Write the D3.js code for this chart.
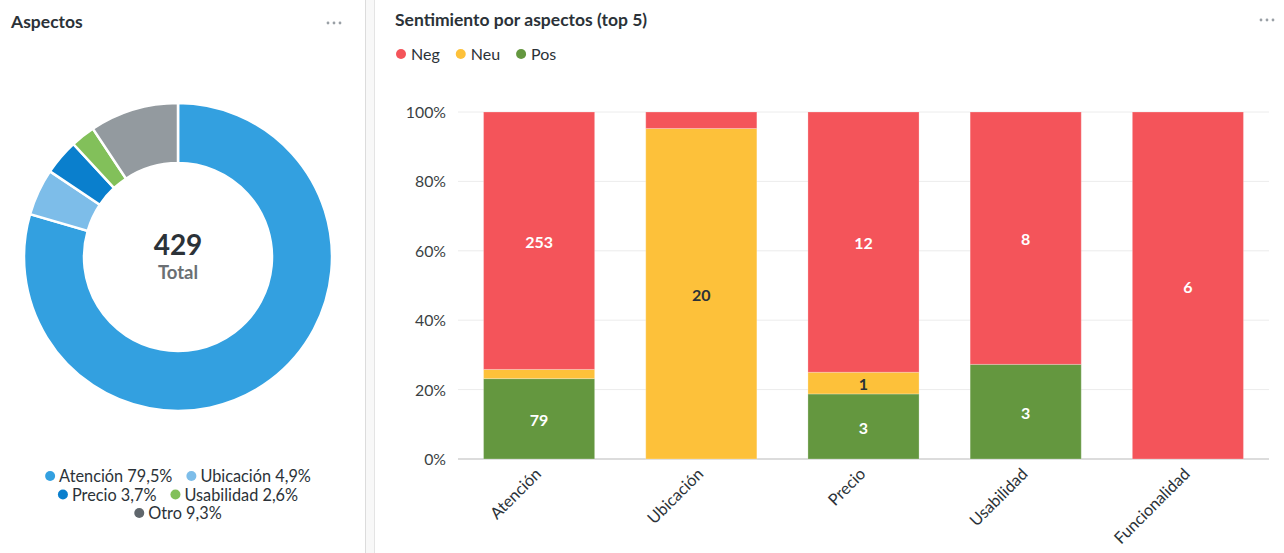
<!DOCTYPE html>
<html>
<head>
<meta charset="utf-8">
<script src="https://cdn.jsdelivr.net/npm/d3@7"></script>
<style>
  html, body { margin: 0; padding: 0; background: #fff; }
  svg { display: block; font-family: Lato, "Open Sans", sans-serif; }
</style>
</head>
<body>
<svg id="chart" width="1284" height="553"></svg>
<script>
// ---- Data ----
const donutCategories = ["Atención", "Ubicación", "Precio", "Usabilidad", "Otro"];
const donutValues = [341, 21, 16, 11, 40];
const donutLabels = ["79,5%", "4,9%", "3,7%", "2,6%", "9,3%"];
const donutColors = ["#33a0e0", "#7dbde9", "#0a7fcd", "#82c05a", "#939a9f"];
const donutLegendDots = ["#33a0e0", "#7dbde9", "#0a7fcd", "#82c05a", "#5f666c"];

const barCategories = ["Atención", "Ubicación", "Precio", "Usabilidad", "Funcionalidad"];
const seriesNames = ["Neg", "Neu", "Pos"];
const negValues = [253, 1, 12, 8, 6];
const neuValues = [9, 20, 1, 0, 0];
const posValues = [79, 0, 3, 3, 0];
const seriesColors = ["#f4545a", "#fdc13a", "#64973f"];
const yTicks = [0, 0.2, 0.4, 0.6, 0.8, 1];

const svg = d3.select("#chart");

// ---- Panel divider ----
svg.append("rect").attr("x", 365).attr("y", 0).attr("width", 10).attr("height", 553).attr("fill", "#f8f8f8");
svg.append("line").attr("x1", 365.5).attr("x2", 365.5).attr("y1", 0).attr("y2", 553).attr("stroke", "#dcdcdc");
svg.append("line").attr("x1", 374.5).attr("x2", 374.5).attr("y1", 0).attr("y2", 553).attr("stroke", "#e4e4e4");

// ---- Titles & menu dots ----
svg.append("text").attr("x", 11).attr("y", 28).attr("font-size", 17.5).attr("font-weight", 700)
  .attr("fill", "#2b3238").text("Aspectos");
svg.append("text").attr("x", 395).attr("y", 26).attr("font-size", 17.5).attr("font-weight", 700)
  .attr("fill", "#2b3238").text("Sentimiento por aspectos (top 5)");
[[334, 23], [1267, 20]].forEach(([cx, cy]) => {
  [-6, 0, 6].forEach(dx => {
    svg.append("circle").attr("cx", cx + dx).attr("cy", cy).attr("r", 1.4).attr("fill", "#9aa0a6");
  });
});

// ---- Donut ----
const cx = 178, cy = 257;
const pie = d3.pie().sort(null).value(d => d)(donutValues);
const arc = d3.arc().innerRadius(94).outerRadius(154);
const dg = svg.append("g").attr("transform", `translate(${cx},${cy})`);
dg.selectAll("path").data(pie).join("path")
  .attr("d", arc)
  .attr("fill", (d, i) => donutColors[i])
  .attr("stroke", "#fff").attr("stroke-width", 2.5);
dg.append("text").attr("text-anchor", "middle").attr("y", -2).attr("font-size", 28).attr("font-weight", 700)
  .attr("fill", "#2b3238").text(d3.sum(donutValues));
dg.append("text").attr("text-anchor", "middle").attr("y", 22).attr("font-size", 18.5).attr("font-weight", 700)
  .attr("fill", "#6b6f73").text("Total");

// Donut legend (centered rows)
const legendRows = [[0, 1], [2, 3], [4]];
const rowY = [476, 494.5, 513];
legendRows.forEach((row, r) => {
  const g = svg.append("g");
  let x = 0;
  row.forEach((i, k) => {
    const item = g.append("g").attr("transform", `translate(${x},0)`);
    item.append("circle").attr("cx", 5).attr("cy", 0).attr("r", 5).attr("fill", donutLegendDots[i]);
    const t = item.append("text").attr("x", 14).attr("y", 6).attr("font-size", 16.3).attr("fill", "#2b3238")
      .text(donutCategories[i] + " " + donutLabels[i]);
    const w = t.node().getComputedTextLength();
    x += 14 + w + 14;
  });
  const total = x - 14;
  g.attr("transform", `translate(${178 - total / 2},${rowY[r]})`);
});

// ---- Bar chart ----
const x = d3.scaleBand().domain(barCategories).range([458, 1269]).paddingInner(0.315).paddingOuter(0.1575);
const y = d3.scaleLinear().domain([0, 1]).range([459, 112]);

// gridlines
svg.append("g").selectAll("line").data(yTicks).join("line")
  .attr("x1", 458).attr("x2", 1269)
  .attr("y1", d => y(d)).attr("y2", d => y(d))
  .attr("stroke", d => d === 0 ? "#dcdcdc" : "#ececec").attr("stroke-width", d => d === 0 ? 2 : 1);

// y axis
const yAxis = svg.append("g").attr("transform", "translate(446,0)")
  .call(d3.axisLeft(y).tickValues(yTicks).tickFormat(d => Math.round(d * 100) + "%").tickSize(0).tickPadding(0));
yAxis.select(".domain").remove();
yAxis.selectAll("text").attr("font-size", 15.8).attr("fill", "#3a3f44").attr("font-family", "Lato, sans-serif").attr("dy", "0.35em");

// stacked data
const rows = barCategories.map((c, i) => ({ cat: c, Pos: posValues[i], Neu: neuValues[i], Neg: negValues[i] }));
const stackOrder = ["Pos", "Neu", "Neg"];
const stack = d3.stack().keys(stackOrder).offset(d3.stackOffsetExpand)(rows);
const colorOf = { Neg: seriesColors[0], Neu: seriesColors[1], Pos: seriesColors[2] };

stack.forEach(layer => {
  const key = layer.key;
  const g = svg.append("g");
  layer.forEach((d, i) => {
    const h = y(d[0]) - y(d[1]);
    if (h <= 0) return;
    g.append("rect")
      .attr("x", x(barCategories[i]))
      .attr("width", x.bandwidth())
      .attr("y", y(d[1]))
      .attr("height", h)
      .attr("fill", colorOf[key])
      .attr("stroke", "rgba(255,255,255,0.25)").attr("stroke-width", 1);
    const v = d.data[key];
    if (h > 19) {
      g.append("text")
        .attr("x", x(barCategories[i]) + x.bandwidth() / 2)
        .attr("y", (y(d[0]) + y(d[1])) / 2 + 1.5)
        .attr("dy", "0.35em")
        .attr("text-anchor", "middle")
        .attr("font-size", 16).attr("font-weight", 700)
        .attr("fill", key === "Neu" ? "#2b3238" : "#ffffff")
        .text(v);
    }
  });
});

// x axis labels
const xAxis = svg.append("g").attr("transform", "translate(0,459)")
  .call(d3.axisBottom(x).tickSize(0).tickPadding(0));
xAxis.select(".domain").remove();
xAxis.selectAll("text")
  .attr("font-size", 16.3).attr("fill", "#2b3238").attr("font-family", "Lato, sans-serif")
  .attr("text-anchor", "end")
  .attr("transform", "translate(-1,12) rotate(-45)")
  .attr("dy", "0.35em").attr("y", 0).attr("x", 0);

// series legend
let lx = 401;
seriesNames.forEach((s, i) => {
  svg.append("circle").attr("cx", lx).attr("cy", 54).attr("r", 5).attr("fill", seriesColors[i]);
  const t = svg.append("text").attr("x", lx + 10).attr("y", 60).attr("font-size", 16).attr("fill", "#2b3238").text(s);
  lx += 10 + t.node().getComputedTextLength() + 21;
});
</script>
</body>
</html>
